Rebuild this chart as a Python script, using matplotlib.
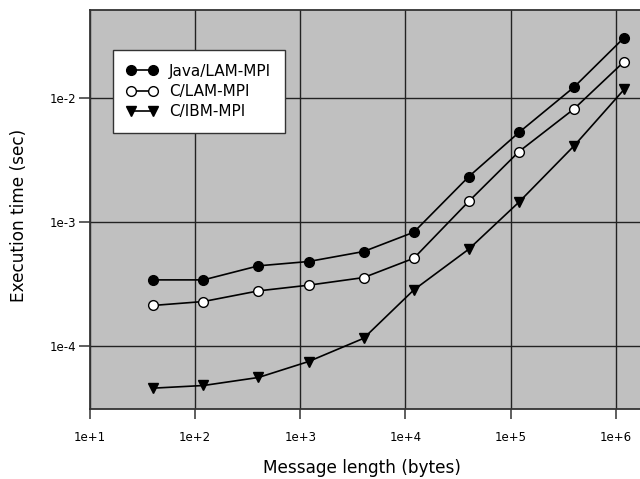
import numpy as np
import matplotlib
matplotlib.use("Agg")
import matplotlib.pyplot as plt

plt.rcParams['font.family'] = ['DejaVu Sans']

# message length (bytes)
msg_len = [40, 120, 400, 1200, 4000, 12000, 40000, 120000, 400000, 1200000]
# execution time (sec)
java_lam = [3.41e-4, 3.41e-4, 4.43e-4, 4.8e-4, 5.78e-4, 8.28e-4, 2.33e-3, 5.3e-3, 1.23e-2, 3.09e-2]
c_lam = [2.12e-4, 2.28e-4, 2.78e-4, 3.09e-4, 3.56e-4, 5.1e-4, 1.47e-3, 3.71e-3, 8.2e-3, 1.98e-2]
c_ibm = [4.55e-5, 4.78e-5, 5.55e-5, 7.47e-5, 1.15e-4, 2.83e-4, 6.04e-4, 1.45e-3, 4.12e-3, 1.18e-2]

xticks = [1e1, 1e2, 1e3, 1e4, 1e5, 1e6]
xtick_labels = ["1e+1", "1e+2", "1e+3", "1e+4", "1e+5", "1e+6"]
yticks = [1e-4, 1e-3, 1e-2]
ytick_labels = ["1e-4", "1e-3", "1e-2"]

fig = plt.figure(figsize=(6.4, 4.79), dpi=100)
ax = fig.add_axes([0.1406, 0.146, 0.8594, 0.833])
ax.set_facecolor("#c0c0c0")

ax.plot(msg_len, java_lam, color="black", lw=1.2, marker="o", ms=7,
        mfc="black", mec="black", label="Java/LAM-MPI", zorder=3)
ax.plot(msg_len, c_lam, color="black", lw=1.2, marker="o", ms=7,
        mfc="white", mec="black", label="C/LAM-MPI", zorder=3)
ax.plot(msg_len, c_ibm, color="black", lw=1.2, marker="v", ms=6.5,
        mfc="black", mec="black", label="C/IBM-MPI", zorder=3)

ax.set_xscale("log")
ax.set_yscale("log")
ax.set_xlim(10, 10 ** 6.23)
ax.set_ylim(10 ** -4.511, 10 ** -1.287)
ax.set_xticks(xticks, xtick_labels)
ax.set_yticks(yticks, ytick_labels)
ax.minorticks_off()
ax.grid(True, color="#222222", lw=1.0)
ax.set_axisbelow(True)
ax.tick_params(axis="x", direction="out", length=7, width=1.1, color="#333333",
               labelsize=8.5, pad=9)
ax.tick_params(axis="y", direction="out", length=8, width=1.1, color="#333333",
               labelsize=8.5, pad=2)
for s in ["left", "bottom", "top"]:
    ax.spines[s].set_color("#333333")
    ax.spines[s].set_linewidth(1.3)
ax.spines["right"].set_visible(False)

ax.set_xlabel("Message length (bytes)", fontsize=12.2)
ax.set_ylabel("Execution time (sec)", fontsize=12.2)
ax.xaxis.set_label_coords(0.495, -0.125)
ax.yaxis.set_label_coords(-0.112, 0.486)

leg = ax.legend(loc="upper left", bbox_to_anchor=(0.0418, 0.8997), borderaxespad=0,
                fontsize=11, numpoints=2, frameon=True, fancybox=False,
                framealpha=1, edgecolor="#333333", borderpad=0.88,
                handlelength=2.04, handletextpad=0.75, labelspacing=0.35)
leg.get_frame().set_linewidth(1.0)

fig.savefig("out.png", dpi=100)
